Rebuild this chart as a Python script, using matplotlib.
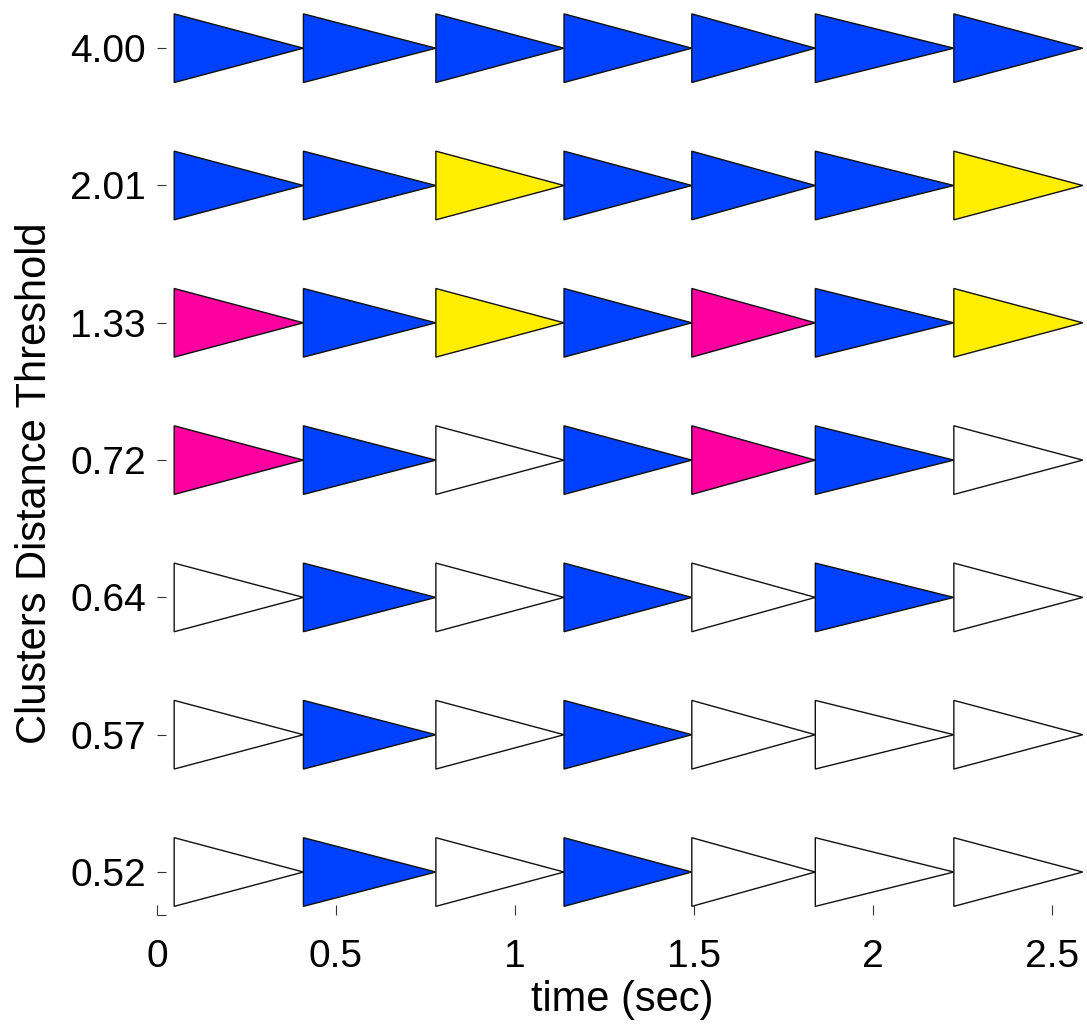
import matplotlib
matplotlib.use("Agg")
import matplotlib.pyplot as plt
from matplotlib.patches import Polygon

plt.rcParams['font.family'] = ['Liberation Sans', 'DejaVu Sans']

# thresholds, bottom row first
thresholds = ['0.52', '0.57', '0.64', '0.72', '1.33', '2.01', '4.00']

# segment start times (sec) and end of last segment
seg_start = [0.048, 0.409, 0.779, 1.137, 1.494, 1.839, 2.226]
seg_end = 2.586

# cluster colour per segment, one string per threshold row (bottom first)
# w = no cluster, b = blue, y = yellow, m = magenta
rows = [
    'wbwbwww',
    'wbwbwww',
    'wbwbwbw',
    'mbwbmbw',
    'mbybmby',
    'bbybbby',
    'bbbbbbb',
]

colmap = {'w': '#ffffff', 'b': '#0040ff', 'y': '#ffee00', 'm': '#ff00a0'}

fig = plt.figure(figsize=(10.87, 10.26), dpi=100)
ax = fig.add_axes([157/1087, 111/1026, 930/1087, 915/1026])

ends = seg_start[1:] + [seg_end]
half = 0.25
for i, code in enumerate(rows):
    y = i + 1
    for j, c in enumerate(code):
        x0, x1 = seg_start[j], ends[j]
        tri = Polygon([(x0, y - half), (x0, y + half), (x1, y)], closed=True,
                      facecolor=colmap[c], edgecolor='#111111', linewidth=1.0)
        ax.add_patch(tri)

ax.set_xlim(0, 2.598)
ax.set_ylim(0.687, 7.351)
for s in ax.spines.values():
    s.set_visible(False)

ax.set_xticks([0, 0.5, 1, 1.5, 2, 2.5])
ax.set_xticklabels(['0', '0.5', '1', '1.5', '2', '2.5'])
ax.set_yticks(range(1, len(thresholds) + 1))
ax.set_yticklabels(thresholds)
ax.set_yticks([0.687], minor=True)

ax.tick_params(axis='x', direction='in', length=7, width=0.8, pad=17,
               labelsize=28, color='#333333')
ax.tick_params(axis='y', direction='in', length=6.5, width=0.8, pad=8,
               labelsize=28, color='#333333')
ax.tick_params(axis='y', which='minor', direction='in', length=6.5,
               width=0.8, color='#333333')

ax.set_xlabel('time (sec)', fontsize=30, labelpad=4)
ax.set_ylabel('Clusters Distance Threshold', fontsize=30)
ax.yaxis.set_label_coords(-0.11, 0.472)

fig.savefig('out.png', dpi=100)
